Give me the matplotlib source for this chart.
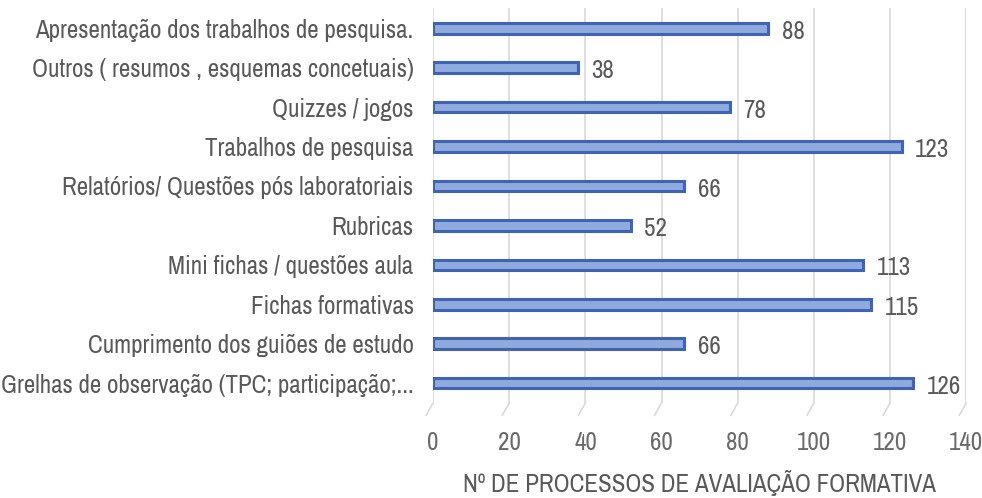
import matplotlib
matplotlib.use("Agg")
import matplotlib.pyplot as plt
import numpy as np

categories = [
    "Grelhas de observação (TPC; participação;...",
    "Cumprimento dos guiões de estudo",
    "Fichas formativas",
    "Mini fichas / questões aula",
    "Rubricas",
    "Relatórios/ Questões pós laboratoriais",
    "Trabalhos de pesquisa",
    "Quizzes / jogos",
    "Outros ( resumos , esquemas concetuais)",
    "Apresentação dos trabalhos de pesquisa.",
]
values = [126, 66, 115, 113, 52, 66, 123, 78, 38, 88]
xticks = [0, 20, 40, 60, 80, 100, 120, 140]
xlabel = "Nº DE PROCESSOS DE AVALIAÇÃO FORMATIVA"

plt.rcParams['font.family'] = ['Archivo Narrow', 'DejaVu Sans']

fig = plt.figure(figsize=(9.82, 4.98), dpi=100)
ax = fig.add_axes([0.441, 0.191, 0.543, 0.792])

y = np.arange(len(categories))
ax.barh(y, values, height=0.27, color="#8faadc", edgecolor="#3f64b5",
        linewidth=2.2, zorder=3)

for yi, v in zip(y, values):
    ax.text(v + 3.5, yi - 0.08, str(v), va="center", ha="left",
            fontsize=18, color="#595959")

ax.set_xlim(0, 140)
ax.set_ylim(-0.5, len(categories) - 0.5)
ax.set_xticks(xticks)
ax.set_yticks(y)
ax.set_yticklabels(categories, fontsize=18, color="#595959")
ax.tick_params(axis="x", labelsize=18, labelcolor="#6a6a6a", length=0, pad=20)
ax.tick_params(axis="y", length=0, pad=14)
ax.grid(axis="x", color="#d9d9d9", linewidth=1.2, zorder=0)
for s in ax.spines.values():
    s.set_visible(False)
ax.set_xlabel(xlabel, fontsize=18, color="#595959", labelpad=12)

# slanted floor segments under each gridline (3D look)
for xv in xticks:
    ax.annotate("", xy=(xv, 0), xycoords=ax.get_xaxis_transform(),
                xytext=(-5, -9), textcoords="offset points",
                arrowprops=dict(arrowstyle="-", color="#d9d9d9", lw=1.2,
                                shrinkA=0, shrinkB=0))

fig.savefig("out.png", dpi=100)
